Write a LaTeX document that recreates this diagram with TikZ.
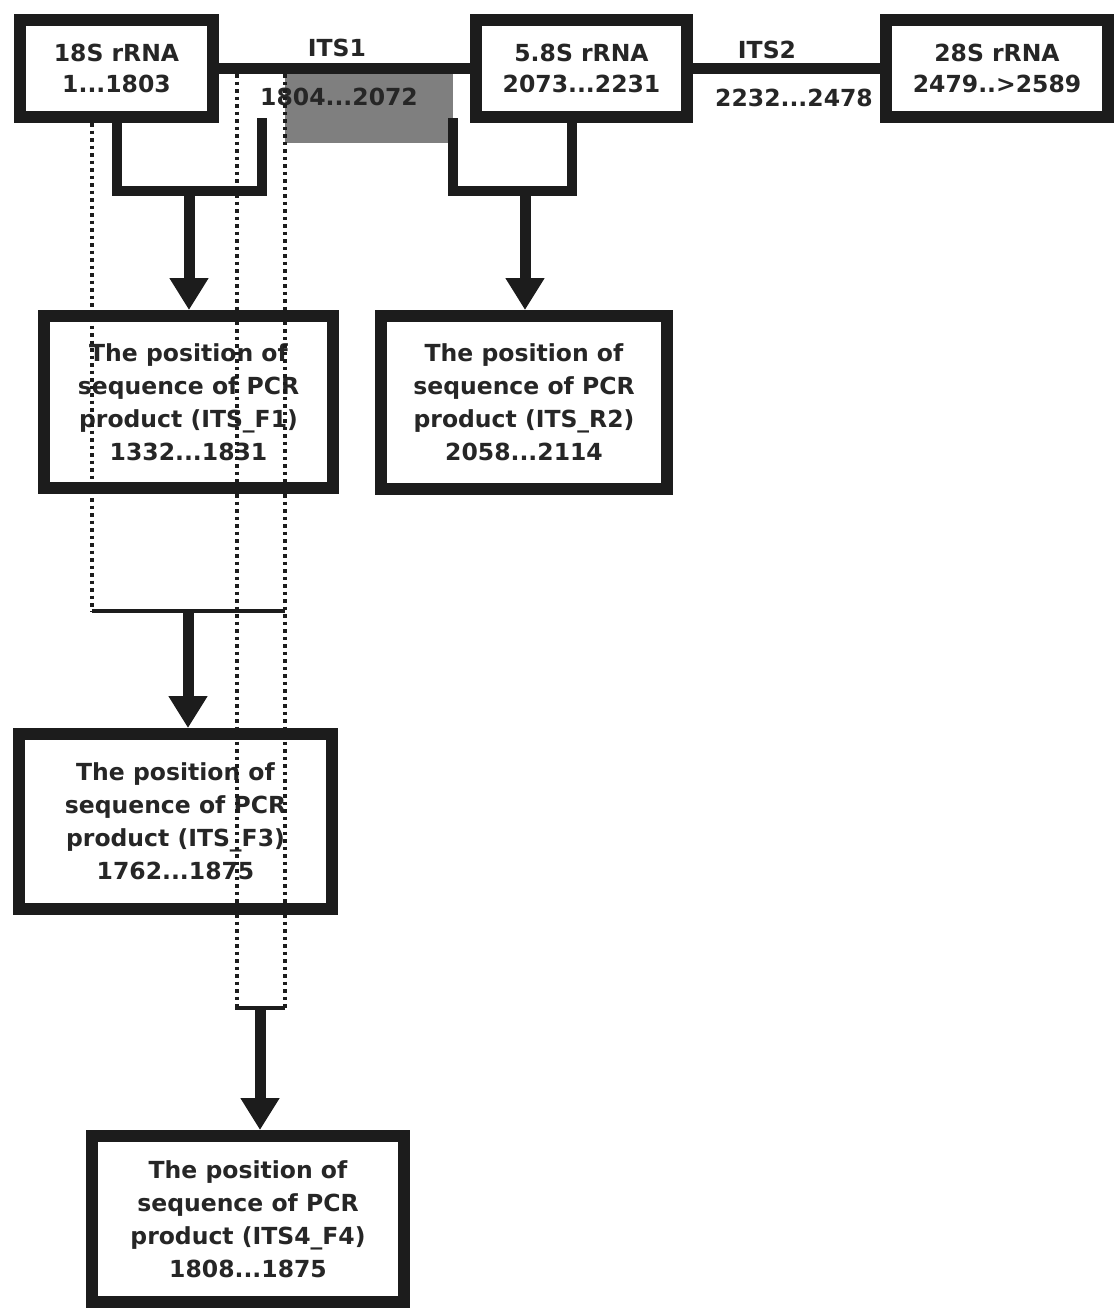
\documentclass[tikz,border=0pt]{standalone}
\usepackage{fontspec}
\setmainfont{DejaVu Sans}
\usetikzlibrary{arrows.meta}
\definecolor{ink}{HTML}{1C1C1C}
\definecolor{txt}{HTML}{262626}
\definecolor{itsgray}{HTML}{7F7F7F}
\begin{document}
\begin{tikzpicture}[x=1pt,y=-1pt,
  box/.style={draw=ink, line width=12pt, align=center, inner sep=0pt,
    font=\bfseries\fontsize{23.5pt}{31pt}\selectfont, text=txt},
  pcr/.style={box, font=\bfseries\fontsize{23.5pt}{33pt}\selectfont},
  lbl/.style={font=\bfseries\fontsize{23.5pt}{31pt}\selectfont, text=txt, inner sep=0pt},
  conn/.style={draw=ink, line width=11pt},
  brk/.style={draw=ink, line width=10pt, line join=miter},
  arr/.style={draw=ink, line width=11pt, -{Triangle[width=37pt,length=32pt]}},
  dots/.style={draw=ink, line width=3.5pt, dash pattern=on 3.5pt off 4pt},
  bar/.style={draw=ink, line width=4pt}]
\useasboundingbox (0,0) rectangle (1119,1310);
\fill[white] (0,0) rectangle (1119,1310);

% shaded ITS1 region
\fill[itsgray] (285,74) rectangle (453,143);

% top row boxes
\node[box, minimum width=193pt, minimum height=97pt] (s18) at (116.5,68.5) {18S rRNA\\1...1803};
\node[box, minimum width=211pt, minimum height=97pt] (s58) at (581.5,68.5) {5.8S rRNA\\2073...2231};
\node[box, minimum width=222pt, minimum height=97pt] (s28) at (997,68.5) {28S rRNA\\2479..>2589};

\draw[conn] (s18.east) -- (s58.west);
\draw[conn] (s58.east) -- (s28.west);

\node[lbl] (its1) at (337,48) {ITS1};
\node[lbl] (its1r) at (339,97) {1804...2072};
\node[lbl] (its2) at (767,50) {ITS2};
\node[lbl] (its2r) at (794,98) {2232...2478};

% PCR product boxes
\node[pcr, minimum width=289pt, minimum height=172pt] (f1) at (188.5,402) {The position of\\sequence of PCR\\product (ITS\_F1)\\1332...1831};
\node[pcr, minimum width=286pt, minimum height=173pt] (r2) at (524,402.5) {The position of\\sequence of PCR\\product (ITS\_R2)\\2058...2114};
\node[pcr, minimum width=313pt, minimum height=175pt] (f3) at (175.5,821.5) {The position of\\sequence of PCR\\product (ITS\_F3)\\1762...1875};
\node[pcr, minimum width=312pt, minimum height=166pt] (f4) at (248,1219) {The position of\\sequence of PCR\\product (ITS4\_F4)\\1808...1875};

% brackets and arrows
\coordinate (b1r) at (262,118);
\coordinate (b1m) at (189,191);
\draw[brk] (s18.south) |- (b1m) -| (b1r);
\draw[arr] (b1m) -- (b1m |- f1.north);

\coordinate (b2l) at (453,118);
\coordinate (b2m) at (525,191);
\coordinate (b2r) at (572,117);
\draw[brk] (b2l) |- (b2m) -| (b2r);
\draw[arr] (b2m) -- (b2m |- r2.north);

% dotted guide lines
\coordinate (d1t) at (92,123);
\coordinate (d1b) at (92,611);
\coordinate (d2t) at (237,74);
\coordinate (d2b) at (237,1008);
\coordinate (d3t) at (285,74);
\coordinate (d3b) at (285,1008);
\draw[dots] (d1t) -- (d1b);
\draw[dots] (d2t) -- (d2b);
\draw[dots] (d3t) -- (d3b);

\coordinate (h1m) at (188,611);
\draw[bar] (d1b) -- (d3b |- d1b);
\draw[arr] (h1m) -- (h1m |- f3.north);

\coordinate (h2l) at (235,1008);
\coordinate (h2m) at (260,1008);
\draw[bar] (h2l) -- (d3b);
\draw[arr] (h2m) -- (h2m |- f4.north);
\end{tikzpicture}
\end{document}
